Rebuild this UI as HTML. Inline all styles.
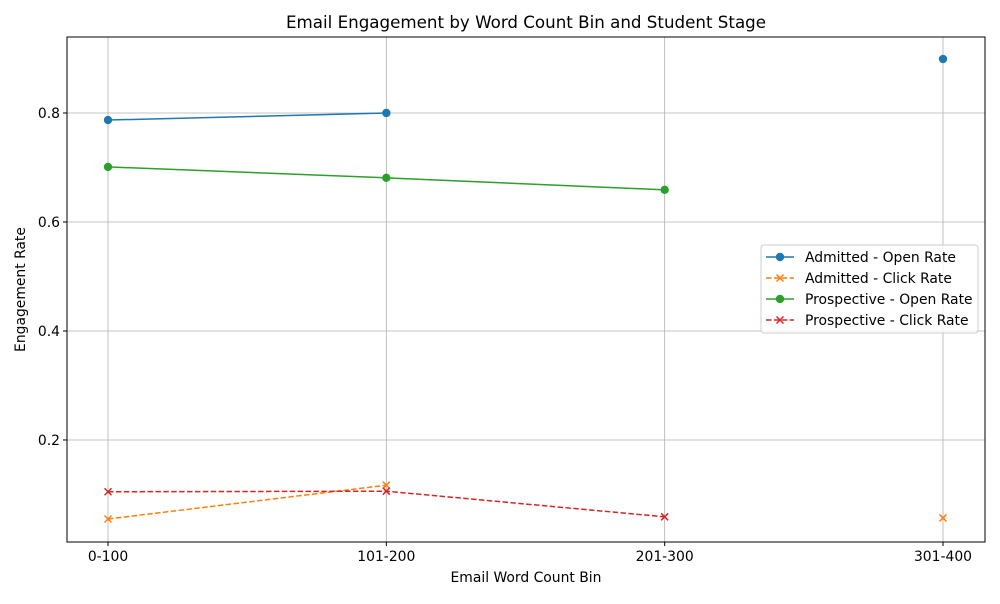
<!DOCTYPE html>
<html><head><meta charset="utf-8"><style>
body{margin:0;background:#fff;font-family:"DejaVu Sans","Liberation Sans",sans-serif}
</style></head><body>
<svg id="chart" width="1000" height="600" xmlns="http://www.w3.org/2000/svg"></svg>
<script>
const categories = ["0-100","101-200","201-300","301-400"];
const admittedOpen = [0.787, 0.800, null, 0.899];
const admittedClick = [0.055, 0.117, null, 0.057];
const prospectiveOpen = [0.701, 0.681, 0.659, null];
const prospectiveClick = [0.105, 0.106, 0.059, null];
const yTicks = [0.2, 0.4, 0.6, 0.8];
const seriesNames = ["Admitted - Open Rate","Admitted - Click Rate","Prospective - Open Rate","Prospective - Click Rate"];

const L=67,R=985,T=37,B=542;
const x0=108, x1=943;
function xs(i){return x0+i*(x1-x0)/(categories.length-1);}
const yMin=0.0128,yMax=0.9394;
function ys(v){return B-(v-yMin)/(yMax-yMin)*(B-T);}
const svg=document.getElementById('chart');
const NS="http://www.w3.org/2000/svg";
function mk(tag,attrs,parent){const e=document.createElementNS(NS,tag);for(const k in attrs)e.setAttribute(k,attrs[k]);(parent||svg).appendChild(e);return e;}

categories.forEach((c,i)=>{
  const g=mk('line',{x1:xs(i),x2:xs(i),y1:T,y2:B,stroke:'#b0b0b0','stroke-width':0.8});
  
  
  mk('line',{x1:xs(i),x2:xs(i),y1:B,y2:B+4,stroke:'#000'});
  const t=mk('text',{x:xs(i),y:B+19,'text-anchor':'middle','font-size':13.9});
  t.textContent=c;
  
  
});
yTicks.forEach(v=>{
  const g=mk('line',{x1:L,x2:R,y1:ys(v),y2:ys(v),stroke:'#b0b0b0','stroke-width':0.8});
  
  
  mk('line',{x1:L-4,x2:L,y1:ys(v),y2:ys(v),stroke:'#000'});
  const t=mk('text',{x:L-7,y:ys(v)+5,'text-anchor':'end','font-size':13.9});
  t.textContent=v.toFixed(1);
  
  
});
const frame=mk('rect',{x:L,y:T,width:R-L,height:B-T,fill:'none',stroke:'#000','stroke-width':1});



function marker(g,x,y,type,color){
  if(type==='o') mk('circle',{cx:x,cy:y,r:4.2,fill:color},g);
  else { mk('path',{d:`M${x-3.5},${y-3.5}L${x+3.5},${y+3.5}M${x-3.5},${y+3.5}L${x+3.5},${y-3.5}`,stroke:color,'stroke-width':1.5},g); }
}
const styles=[
  {data:admittedOpen,color:'#1f77b4',dash:null,m:'o',name:'series-admitted-open'},
  {data:admittedClick,color:'#ff7f0e',dash:'5.5,2.4',m:'x',name:'series-admitted-click'},
  {data:prospectiveOpen,color:'#2ca02c',dash:null,m:'o',name:'series-prospective-open'},
  {data:prospectiveClick,color:'#d62728',dash:'5.5,2.4',m:'x',name:'series-prospective-click'}
];
styles.forEach(s=>{
  const g=mk('g',{});
  
  
  let d='',pen=false;
  s.data.forEach((v,i)=>{
    if(v===null){pen=false;return;}
    d+=(pen?'L':'M')+xs(i)+','+ys(v);pen=true;
  });
  const p=mk('path',{d:d,fill:'none',stroke:s.color,'stroke-width':1.5},g);
  if(s.dash)p.setAttribute('stroke-dasharray',s.dash);
  s.data.forEach((v,i)=>{if(v!==null)marker(g,xs(i),ys(v),s.m,s.color);});
});

const title=mk('text',{x:(L+R)/2,y:28,'text-anchor':'middle','font-size':16.7});
title.textContent='Email Engagement by Word Count Bin and Student Stage';


const xt=mk('text',{x:(L+R)/2,y:582,'text-anchor':'middle','font-size':13.9});
xt.textContent='Email Word Count Bin';


const yt=mk('text',{x:0,y:0,'text-anchor':'middle','font-size':13.9,transform:`translate(25,${(T+B)/2}) rotate(-90)`});
yt.textContent='Engagement Rate';



const lg=mk('g',{});


mk('rect',{x:761,y:245,width:217,height:88,rx:3,fill:'#fff','fill-opacity':0.8,stroke:'#ccc'},lg);
seriesNames.forEach((n,i)=>{
  const s=styles[i];const y=257+i*21;
  const e=mk('g',{},lg);
  
  
  const l=mk('line',{x1:766,x2:794,y1:y,y2:y,stroke:s.color,'stroke-width':1.5},e);
  if(s.dash)l.setAttribute('stroke-dasharray','5.5,2.4');
  marker(e,780,y,s.m,s.color);
  const t=mk('text',{x:805,y:y+5,'font-size':13.9},e);
  t.textContent=n;
});
</script>
</body></html>
